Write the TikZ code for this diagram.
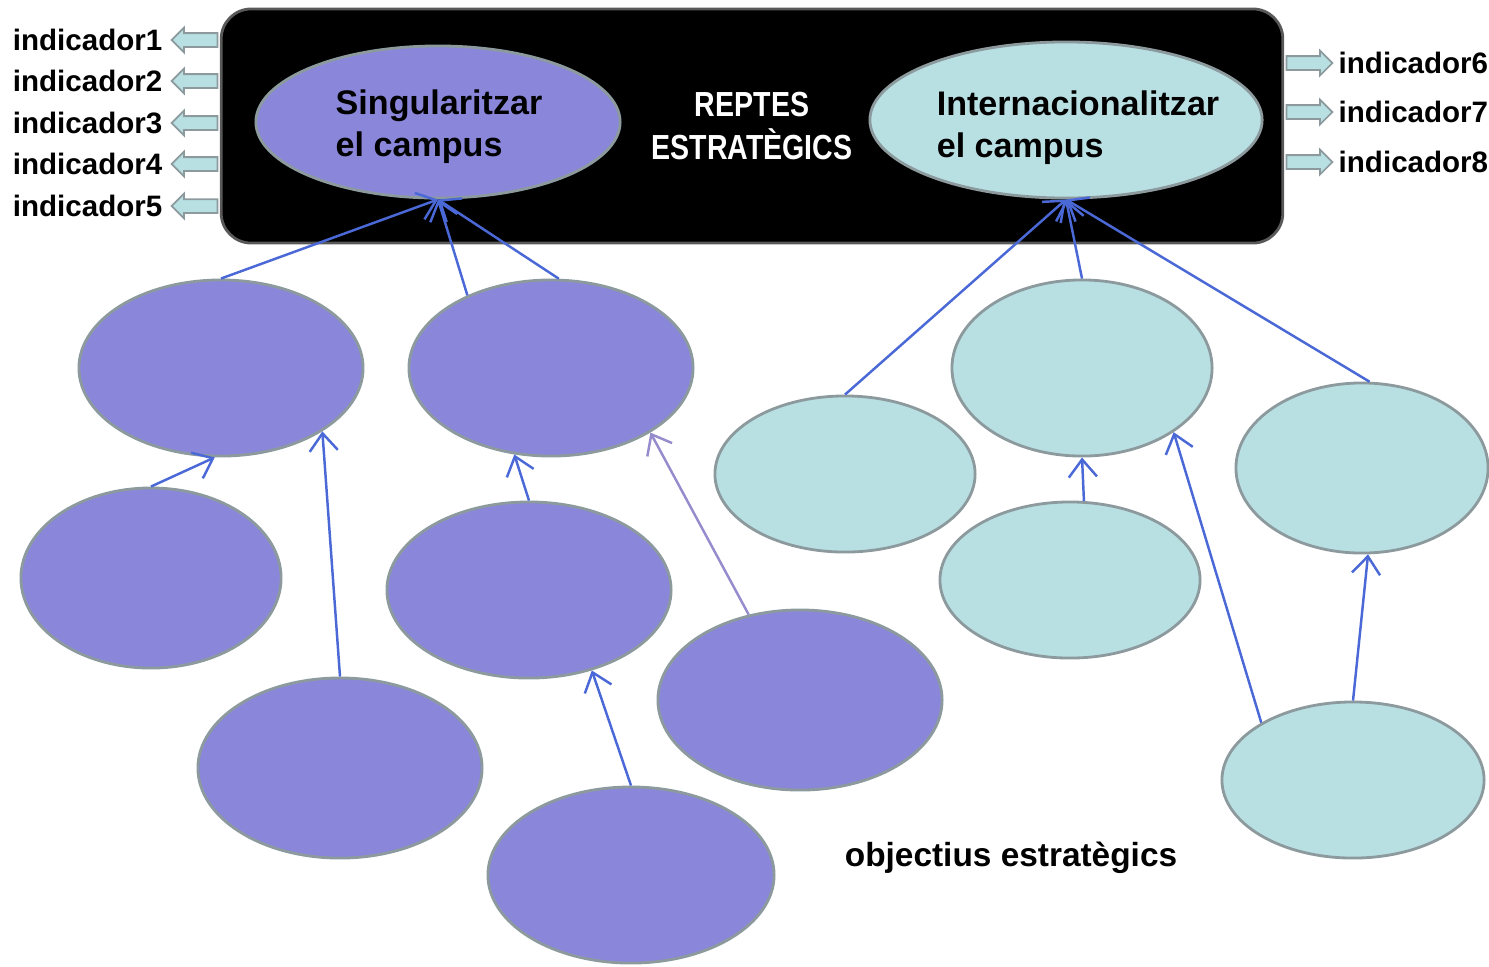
\documentclass[tikz,border=0pt]{standalone}
\usepackage{fontspec}
\setmainfont{Liberation Sans}
\newfontfamily\narrowfont[FakeStretch=0.82]{Liberation Sans}
\usepackage{tikz}
\usetikzlibrary{shapes.geometric,shapes.arrows,arrows.meta}
\definecolor{purpfill}{RGB}{138,135,219}
\definecolor{cyanfill}{RGB}{184,224,227}
\definecolor{rimgray}{RGB}{140,154,158}
\definecolor{linkblue}{RGB}{74,104,214}
\definecolor{linklight}{RGB}{150,140,205}

\begin{document}
\begin{tikzpicture}[x=0.01cm, y=-0.01cm,
  every node/.style={font=\bfseries\fontsize{8.4}{10}\selectfont},
  bubble/.style={ellipse, draw=rimgray, line width=0.8pt, inner sep=0pt},
  purp/.style={bubble, fill=purpfill},
  cyanb/.style={bubble, fill=cyanfill},
  bubbletext/.style={inner sep=0pt, align=left, font=\bfseries\fontsize{9.7}{12}\selectfont},
  link/.style={draw=linkblue, line width=0.7pt, -{Straight Barb[length=5pt,width=8pt]}},
  indarrow/.style={single arrow, draw=rimgray, fill=cyanfill, line width=0.5pt,
    minimum height=0.46cm, minimum width=0.23cm, single arrow head extend=0.055cm, inner sep=0.06cm}]
  \useasboundingbox (0,0) rectangle (1489,966);

  % caixa dels reptes
  \node[draw=gray!70!black, fill=black, rounded corners=0.3cm, line width=0.8pt,
    minimum width=10.61cm, minimum height=2.34cm, text=white, align=center,
    font=\narrowfont\bfseries\fontsize{9.9}{12.5}\selectfont] (reptes) at (752,126) {REPTES\\ESTRATÈGICS};
  \node[purp, minimum width=3.64cm, minimum height=1.52cm] (sing) at (438,122) {};
  \node[bubbletext] (singtext) at (439,127) {Singularitzar\\el campus};
  \node[cyanb, minimum width=3.92cm, minimum height=1.56cm] (inter) at (1066,120) {};
  \node[bubbletext] (intertext) at (1078,128) {Internacionalitzar\\el campus};

  % indicadors
  \node[indarrow, shape border rotate=180] (a1) at (198,40) {};
  \node[indarrow, shape border rotate=180] (a2) at (198,81) {};
  \node[indarrow, shape border rotate=180] (a3) at (198,123) {};
  \node[indarrow, shape border rotate=180] (a4) at (198,164) {};
  \node[indarrow, shape border rotate=180] (a5) at (198,206) {};
  \node[anchor=east, inner sep=0pt] (ind1) at (163,40) {indicador1};
  \node[anchor=east, inner sep=0pt] (ind2) at (163,81) {indicador2};
  \node[anchor=east, inner sep=0pt] (ind3) at (163,123) {indicador3};
  \node[anchor=east, inner sep=0pt] (ind4) at (163,164) {indicador4};
  \node[anchor=east, inner sep=0pt] (ind5) at (163,206) {indicador5};
  \node[indarrow] (a6) at (1306,63) {};
  \node[indarrow] (a7) at (1306,112) {};
  \node[indarrow] (a8) at (1306,162) {};
  \node[anchor=west, inner sep=0pt] (ind6) at (1338,63) {indicador6};
  \node[anchor=west, inner sep=0pt] (ind7) at (1338,112) {indicador7};
  \node[anchor=west, inner sep=0pt] (ind8) at (1338,162) {indicador8};

  % objectius
  \node[purp, minimum width=2.84cm, minimum height=1.76cm] (p1) at (221,368) {};
  \node[purp, minimum width=2.84cm, minimum height=1.76cm] (p2) at (551,368) {};
  \node[purp, minimum width=2.60cm, minimum height=1.80cm] (p3) at (151,578) {};
  \node[purp, minimum width=2.84cm, minimum height=1.76cm] (p4) at (529,590) {};
  \node[purp, minimum width=2.84cm, minimum height=1.80cm] (p5) at (340,768) {};
  \node[purp, minimum width=2.84cm, minimum height=1.80cm] (p6) at (800,700) {};
  \node[purp, minimum width=2.86cm, minimum height=1.76cm] (p7) at (631,875) {};
  \node[cyanb, minimum width=2.60cm, minimum height=1.56cm] (c1) at (845,474) {};
  \node[cyanb, minimum width=2.60cm, minimum height=1.76cm] (c2) at (1082,368) {};
  \node[cyanb, minimum width=2.60cm, minimum height=1.56cm] (c3) at (1070,580) {};
  \node[cyanb, minimum width=2.52cm, minimum height=1.70cm] (c4) at (1362,468) {};
  \node[cyanb, minimum width=2.62cm, minimum height=1.56cm] (c5) at (1353,780) {};
  \node[font=\bfseries\fontsize{9.5}{11}\selectfont, inner sep=0pt] (obj) at (1011,858) {objectius estratègics};

  \draw[link] (p1.north) -- (sing.south);
  \draw[link] (p2.139) -- (sing.south);
  \draw[link] (p2.85) -- (sing.south);
  \draw[link] (p3.north) -- (p1.-94);
  \draw[link] (p5.north) -- (p1.-32);
  \draw[link] (p4.north) -- (p2.-113);
  \draw[link, draw=linklight] (p6.121) -- (p2.-33);
  \draw[link] (p7.north) -- (p4.-52);
  \draw[link] (c1.north) -- (inter.south);
  \draw[link] (c2.north) -- (inter.south);
  \draw[link] (c4.85) -- (inter.south);
  \draw[link] (c3.80) -- (c2.south);
  \draw[link] (c5.148) -- (c2.-35);
  \draw[link] (c5.north) -- (c4.-86);
\end{tikzpicture}
\end{document}
